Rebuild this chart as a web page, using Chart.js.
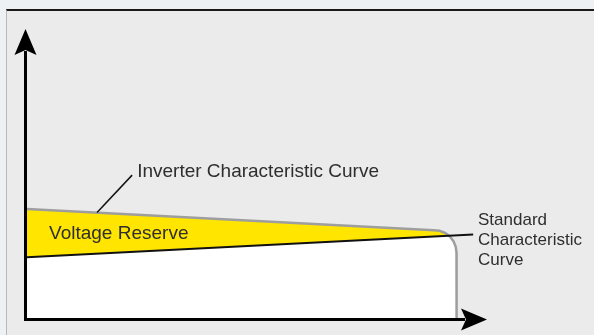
<!DOCTYPE html>
<html>
<head>
<meta charset="utf-8">
<script src="https://cdn.jsdelivr.net/npm/chart.js@4.4.1/dist/chart.umd.min.js"></script>
<style>
  html, body { margin: 0; padding: 0; width: 594px; height: 335px; overflow: hidden; background: #eef1f4; }
  #panel { position: absolute; left: 6px; top: 9px; right: 0; bottom: 0; background: #ebebeb;
           border-top: 2px solid #1a1a1a; border-left: 1px solid #b8b8b8; }
  #chart { position: absolute; left: 0; top: 0; }
</style>
</head>
<body>
<div id="panel"></div>
<canvas id="chart" width="594" height="335"></canvas>
<script>
// relative units: x 0..100 along the horizontal axis, y 0..100 up the vertical axis
const inverterX = [0.3, 88.5, 89.77, 90.95, 91.96, 92.74, 93.22, 93.39, 93.41];
const inverterY = [38.04, 30.75, 30.53, 29.78, 28.54, 26.94, 25.06, 23.06, 0];
const standardX = [0.3, 97];
const standardY = [21.4, 29.26];

const inverterLabel = 'Inverter Characteristic Curve';
const reserveLabel = 'Voltage Reserve';
const standardLabel = ['Standard', 'Characteristic', 'Curve'];

const toPoints = (xs, ys) => xs.map((v, i) => ({x: v, y: ys[i]}));

const FONT = '"Liberation Sans", Arial, Helvetica, sans-serif';

const axesAndLabels = {
  id: 'axesAndLabels',
  afterDatasetsDraw(chart) {
    const {ctx, chartArea: a, scales: {x, y}} = chart;
    const px = v => x.getPixelForValue(v);
    const py = v => y.getPixelForValue(v);
    ctx.save();

    // axes
    ctx.strokeStyle = '#000';
    ctx.lineWidth = 3;
    ctx.lineJoin = 'miter';
    ctx.beginPath();
    ctx.moveTo(a.left, a.top + 22);
    ctx.lineTo(a.left, a.bottom);
    ctx.lineTo(a.right - 22, a.bottom);
    ctx.stroke();

    // arrow heads
    ctx.fillStyle = '#000';
    ctx.beginPath();
    ctx.moveTo(a.left, a.top);
    ctx.lineTo(a.left - 11, a.top + 26);
    ctx.lineTo(a.left, a.top + 21);
    ctx.lineTo(a.left + 11, a.top + 26);
    ctx.closePath();
    ctx.fill();
    ctx.beginPath();
    ctx.moveTo(a.right, a.bottom);
    ctx.lineTo(a.right - 26, a.bottom - 11);
    ctx.lineTo(a.right - 21, a.bottom);
    ctx.lineTo(a.right - 26, a.bottom + 11);
    ctx.closePath();
    ctx.fill();

    // leader line for the inverter label
    ctx.strokeStyle = '#111';
    ctx.lineWidth = 1.5;
    ctx.beginPath();
    ctx.moveTo(px(15.5), py(36.8));
    ctx.lineTo(px(23.1), py(49.7));
    ctx.stroke();

    // labels
    ctx.fillStyle = '#2e2e2e';
    ctx.textBaseline = 'alphabetic';
    ctx.textAlign = 'left';
    ctx.font = '19px ' + FONT;
    ctx.fillText(inverterLabel, px(24.2), py(49.0));
    ctx.fillText(reserveLabel, px(5.1), py(27.7));
    ctx.font = '17px ' + FONT;
    standardLabel.forEach((t, i) => {
      ctx.fillText(t, px(98.05), py(32.5 - i * 6.85));
    });
    ctx.restore();
  }
};

const ctx = document.getElementById('chart').getContext('2d');
const chart = new Chart(ctx, {
  type: 'line',
  data: {
    datasets: [{
      label: 'Standard Characteristic Curve',
      data: toPoints(standardX, standardY),
      borderColor: '#111',
      borderWidth: 2,
      pointRadius: 0,
      fill: {target: 1, above: 'rgba(0,0,0,0)', below: '#ffe500'}
    }, {
      label: 'Inverter Characteristic Curve',
      data: toPoints(inverterX, inverterY),
      borderColor: '#9e9e9e',
      borderWidth: 2.5,
      borderJoinStyle: 'round',
      pointRadius: 0,
      backgroundColor: '#ffffff',
      fill: 'origin'
    }]
  },
  options: {
    responsive: false,
    animation: false,
    layout: {padding: {left: 25.5, right: 107, top: 29, bottom: 15.5}},
    scales: {
      x: {type: 'linear', min: 0, max: 100, display: false},
      y: {type: 'linear', min: 0, max: 100, display: false}
    },
    plugins: {
      legend: {display: false},
      tooltip: {enabled: false},
      filler: {drawTime: 'beforeDatasetsDraw'}
    }
  },
  plugins: [axesAndLabels]
});
</script>
</body>
</html>
